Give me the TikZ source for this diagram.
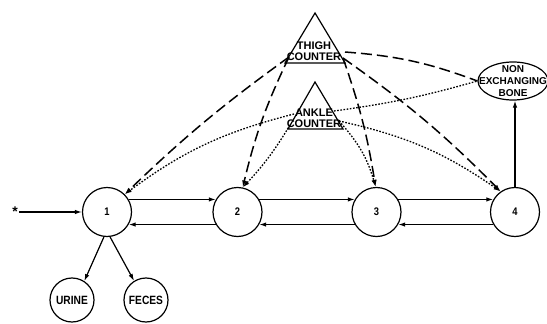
\documentclass[tikz,border=0pt]{standalone}
\usepackage{fontspec}
\setmainfont{Liberation Sans}
\newfontfamily\lblfont[FakeStretch=0.85]{Liberation Sans}
\usetikzlibrary{arrows.meta,shapes.geometric}
\begin{document}
\begin{tikzpicture}[x=1pt,y=1pt,
  comp/.style={draw, circle, line width=1.2pt, minimum size=49pt, inner sep=0pt, font=\lblfont\bfseries\fontsize{11}{12}\selectfont},
  excr/.style={draw, circle, line width=1.2pt, minimum size=44pt, inner sep=0pt, font=\lblfont\bfseries\fontsize{12}{13}\selectfont},
  flow/.style={line width=1.2pt, -{Latex[length=7pt,width=4.5pt]}},
  thighline/.style={line width=1.5pt, dash pattern=on 11pt off 5pt, -{Latex[length=7pt,width=4.5pt]}},
  ankleline/.style={line width=1.3pt, dash pattern=on 1.6pt off 1.6pt, -{Latex[length=7pt,width=4.5pt]}},
  ctr/.style={font=\bfseries\fontsize{11}{11.5}\selectfont, align=center, inner sep=0pt},
  tri/.style={line width=1.2pt},
  startmark/.style={font=\bfseries\fontsize{14}{14}\selectfont, inner sep=1pt},
]
\useasboundingbox (0,0) rectangle (547,-324);

% compartments
\node[comp] (c1) at (107,-212) {1};
\node[comp] (c2) at (237.5,-212) {2};
\node[comp] (c3) at (376.5,-212) {3};
\node[comp] (c4) at (515,-212) {4};
\node[excr] (urine) at (72,-300) {URINE};
\node[excr] (feces) at (146,-300) {FECES};
\node[startmark] (star) at (15,-212) {\raisebox{-5.5pt}{*}};

% non exchanging bone
\node[draw, ellipse, line width=1.2pt, minimum width=70pt, minimum height=38pt, inner sep=0pt] (bone) at (513,-81) {};
\node[font=\bfseries\fontsize{10}{12}\selectfont, align=center, inner sep=0pt] (bonetext) at (bone) {NON\\EXCHANGING\\BONE};

% thigh counter
\coordinate (thA) at (315,-13);
\coordinate (thL) at (285,-63);
\coordinate (thR) at (345,-63);
\draw[tri] (thA) -- (thL) -- (thR) -- cycle;
\node[ctr] (thigh) at (314,-51) {THIGH\\COUNTER};
\coordinate (tl) at (289,-57);
\coordinate (tr) at (343,-58);
\coordinate (tr5) at (345,-52);

% ankle counter
\coordinate (anA) at (315,-82);
\coordinate (anL) at (288,-129);
\coordinate (anR) at (343,-129);
\draw[tri] (anA) -- (anL) -- (anR) -- cycle;
\node[ctr] (ankle) at (314,-118.5) {ANKLE\\COUNTER};
\coordinate (al1) at (294,-114);
\coordinate (al2) at (290,-125);
\coordinate (ar) at (339,-121);
\coordinate (ar5) at (334,-111);

% flows
\draw[flow] (star) -- (c1);
\draw[flow] (c1.30) -- (c2.150);
\draw[flow] (c2.210) -- (c1.330);
\draw[flow] (c2.30) -- (c3.150);
\draw[flow] (c3.210) -- (c2.330);
\draw[flow] (c3.30) -- (c4.150);
\draw[flow] (c4.210) -- (c3.330);
\draw[flow] (c1.263) -- (urine.57);
\draw[flow] (c1.277) -- (feces.122);
\draw[flow] (c4.north) -- (c4.north |- bone.south);

% thigh counter lines
\draw[thighline] (tl) to[bend right=4] (c1.45);
\draw[thighline] (tl) to[bend right=6] (c2.78);
\draw[thighline] (tr) to[bend left=5] (c3.92);
\draw[thighline] (tr) to[bend left=5] (c4.125);
\draw[thighline, -] (tr5) to[bend left=8] (bone.west);

% ankle counter lines
\draw[ankleline] (al1) to[bend right=11] (c1.45);
\draw[ankleline] (al2) to[bend left=6] (c2.78);
\draw[ankleline] (ar) to[bend left=13] (c3.92);
\draw[ankleline] (ar) to[bend left=11] (c4.125);
\draw[ankleline, -] (ar5) to[bend right=4] (bone.west);
\end{tikzpicture}
\end{document}
